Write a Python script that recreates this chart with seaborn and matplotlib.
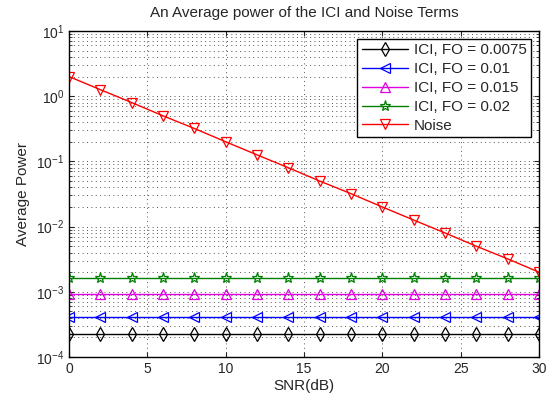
import numpy as np
import pandas as pd
import matplotlib
matplotlib.use("Agg")
import matplotlib.pyplot as plt
import seaborn as sns

# Data
snr = [0, 2, 4, 6, 8, 10, 12, 14, 16, 18, 20, 22, 24, 26, 28, 30]
ici_0075 = [2.28e-4] * 16
ici_001 = [4.05e-4] * 16
ici_0015 = [9.1e-4] * 16
ici_002 = [1.62e-3] * 16
noise = [2.0, 1.26, 0.8, 0.5, 0.32, 0.2, 0.126, 0.08, 0.05, 0.032,
         0.02, 0.0126, 0.008, 0.005, 0.0032, 0.002]

labels = ["ICI, FO = 0.0075", "ICI, FO = 0.01", "ICI, FO = 0.015", "ICI, FO = 0.02", "Noise"]
series = [ici_0075, ici_001, ici_0015, ici_002, noise]
colors = ["black", "blue", "#e000e0", "green", "red"]
markers = ["d", "<", "^", "*", "v"]
msizes = [7.5, 7.5, 7.5, 8, 7.5]

sns.set_style("ticks")
plt.rcParams["font.family"] = ["Liberation Sans", "DejaVu Sans"]
plt.rcParams["font.size"] = 10

fig = plt.figure(figsize=(5.58, 4.01), dpi=100)
ax = fig.add_axes([69 / 558, 1 - 357 / 401, 470 / 558, 326 / 401])

for lab, vals, c, m, ms in zip(labels, series, colors, markers, msizes):
    df = pd.DataFrame({"SNR": snr, "Power": vals})
    sns.lineplot(data=df, x="SNR", y="Power", ax=ax, color=c, marker=m,
                 markersize=ms, markerfacecolor="none",
                 markeredgecolor=c, markeredgewidth=0.9, linewidth=1.0, label=lab)

ax.set_yscale("log")
ax.set_xlim(0, 30)
ax.set_ylim(1e-4, 10)
ax.set_xticks([0, 5, 10, 15, 20, 25, 30])
ax.grid(True, which="major", linestyle=(0, (1, 3.5)), color="#555555", linewidth=0.7)
ax.grid(True, which="minor", axis="y", linestyle=(0, (1, 3.5)), color="#555555", linewidth=0.7)
ax.tick_params(which="both", direction="in", top=True, right=True, labelsize=10)
for s in ax.spines.values():
    s.set_linewidth(1.0)
    s.set_color("black")

ax.set_xlabel("SNR(dB)", fontsize=11, labelpad=2)
ax.set_ylabel("Average Power", fontsize=11)
ax.set_title("An Average power of the ICI and Noise Terms", fontsize=11, pad=10)

leg = ax.legend(loc="upper right", fontsize=11, frameon=True, fancybox=False,
                edgecolor="black", framealpha=1, borderaxespad=0.5,
                handlelength=3.0, handletextpad=0.4, labelspacing=0.32, borderpad=0.3)
leg.get_frame().set_linewidth(1.0)

fig.savefig("out.png", dpi=100)
